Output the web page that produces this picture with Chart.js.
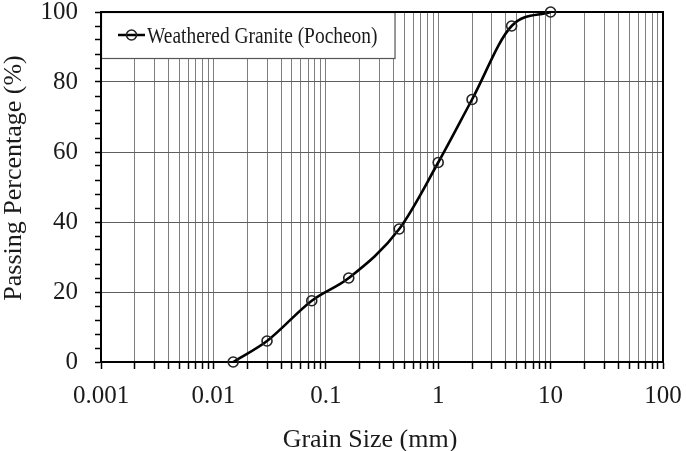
<!DOCTYPE html>
<html><head><meta charset="utf-8">
<script src="https://cdn.jsdelivr.net/npm/chart.js@4"></script>
<style>html,body{margin:0;padding:0;background:#fff;}canvas{display:block;}</style>
</head><body>
<canvas id="c" width="686" height="451"></canvas>
<script>
// ---- data ----
const seriesLabel = 'Weathered Granite (Pocheon)';
const grainSize = [0.015, 0.03, 0.075, 0.16, 0.45, 1, 2, 4.5, 10];
const passing   = [0, 6, 17.5, 24, 38, 57, 75, 96, 100];
const xDecades = [0.001, 0.01, 0.1, 1, 10, 100];
const xMinorMultipliers = [1, 2, 3, 4, 5, 6, 7, 8, 9];
const yLabelTicks = [0, 20, 40, 60, 80, 100];
const yMinorStep = 4;
const xTitle = 'Grain Size (mm)';
const yTitle = 'Passing Percentage (%)';

const SERIF = "'Liberation Serif','Times New Roman',serif";
const TXT = '#1a1a1a';

function buildXTicks() {
  const out = [];
  xDecades.forEach((d, i) => {
    if (i === xDecades.length - 1) { out.push(d); return; }
    xMinorMultipliers.forEach(m => out.push(parseFloat((d * m).toPrecision(6))));
  });
  return out;
}
const isYLabel = v => yLabelTicks.some(t => Math.abs(t - v) < 1e-6);

const decor = {
  id: 'decor',
  beforeDatasetsDraw(chart) {
    const ctx = chart.ctx, ca = chart.chartArea;
    // legend box
    const sx = 0.81;
    ctx.save();
    ctx.font = '24px ' + SERIF;
    const tw = ctx.measureText(seriesLabel).width * sx;
    const bw = 17 + 27 + 2 + tw + 17, bh = 46;
    ctx.fillStyle = '#fff';
    ctx.fillRect(ca.left, ca.top, bw, bh);
    ctx.strokeStyle = '#555'; ctx.lineWidth = 1.2;
    ctx.strokeRect(ca.left + 0.5, ca.top + 0.5, bw, bh);
    const ly = ca.top + 23;
    ctx.strokeStyle = '#000'; ctx.lineWidth = 2.5;
    ctx.beginPath(); ctx.moveTo(ca.left + 17, ly); ctx.lineTo(ca.left + 44, ly); ctx.stroke();
    ctx.lineWidth = 1.6; ctx.strokeStyle = '#222';
    ctx.beginPath(); ctx.arc(ca.left + 30.5, ly, 5, 0, Math.PI * 2); ctx.stroke();
    ctx.translate(ca.left + 46, ly + 8);
    ctx.scale(sx, 1);
    ctx.fillStyle = TXT; ctx.textBaseline = 'alphabetic'; ctx.textAlign = 'left';
    ctx.fillText(seriesLabel, 0, 0);
    ctx.restore();
    // frame
    ctx.save();
    ctx.strokeStyle = '#000'; ctx.lineWidth = 2;
    ctx.strokeRect(ca.left, ca.top, ca.right - ca.left, ca.bottom - ca.top);
    ctx.restore();
  },
  afterDraw(chart) {
    const ctx = chart.ctx, ca = chart.chartArea;
    ctx.save();
    ctx.fillStyle = TXT;
    ctx.font = '26px ' + SERIF;
    ctx.textAlign = 'center'; ctx.textBaseline = 'alphabetic';
    ctx.fillText(xTitle, (ca.left + ca.right) / 2 - 12, 447);
    ctx.translate(21, (ca.top + ca.bottom) / 2 - 9);
    ctx.rotate(-Math.PI / 2);
    ctx.fillText(yTitle, 0, 0);
    ctx.restore();
  }
};

new Chart(document.getElementById('c'), {
  type: 'scatter',
  data: {
    datasets: [{
      label: seriesLabel,
      data: grainSize.map((x, i) => ({ x, y: passing[i] })),
      showLine: true,
      borderColor: '#000',
      borderWidth: 2.6,
      cubicInterpolationMode: 'monotone',
      tension: 0.4,
      pointRadius: 5,
      pointHoverRadius: 5,
      pointBorderWidth: 1.6,
      pointBorderColor: '#222',
      pointBackgroundColor: 'rgba(0,0,0,0)',
      clip: false
    }]
  },
  options: {
    responsive: false,
    animation: false,
    devicePixelRatio: 1,
    layout: { padding: { left: 0, top: 12, right: 23, bottom: 0 } },
    plugins: { legend: { display: false }, tooltip: { enabled: false } },
    scales: {
      x: {
        type: 'logarithmic',
        min: xDecades[0], max: xDecades[xDecades.length - 1],
        afterBuildTicks: s => { s.ticks = buildXTicks().map(v => ({ value: v })); },
        afterFit: s => { s.height = 89; s.paddingLeft = 0; s.paddingRight = 0; },
        ticks: {
          autoSkip: false, maxRotation: 0, minRotation: 0,
          padding: 12, color: TXT,
          font: { family: SERIF, size: 25 },
          callback: v => xDecades.includes(v) ? String(v) : ''
        },
        grid: { color: '#7e7e7e', lineWidth: 1, tickLength: 7, tickColor: '#000', tickWidth: 1.5 },
        border: { display: true, color: '#000', width: 2 }
      },
      y: {
        type: 'linear',
        min: 0, max: 100,
        afterFit: s => { s.width = 101; s.paddingTop = 0; s.paddingBottom = 0; },
        ticks: {
          stepSize: yMinorStep, autoSkip: false,
          padding: 17, color: TXT,
          font: { family: SERIF, size: 25 },
          callback: v => isYLabel(v) ? String(Math.round(v)) : ''
        },
        grid: {
          color: c => isYLabel(c.tick.value) ? '#5e5e5e' : 'rgba(0,0,0,0)',
          lineWidth: 1, tickLength: 6, tickColor: '#000', tickWidth: 1.5
        },
        border: { display: true, color: '#000', width: 2 }
      }
    }
  },
  plugins: [decor]
});
</script>
</body></html>
